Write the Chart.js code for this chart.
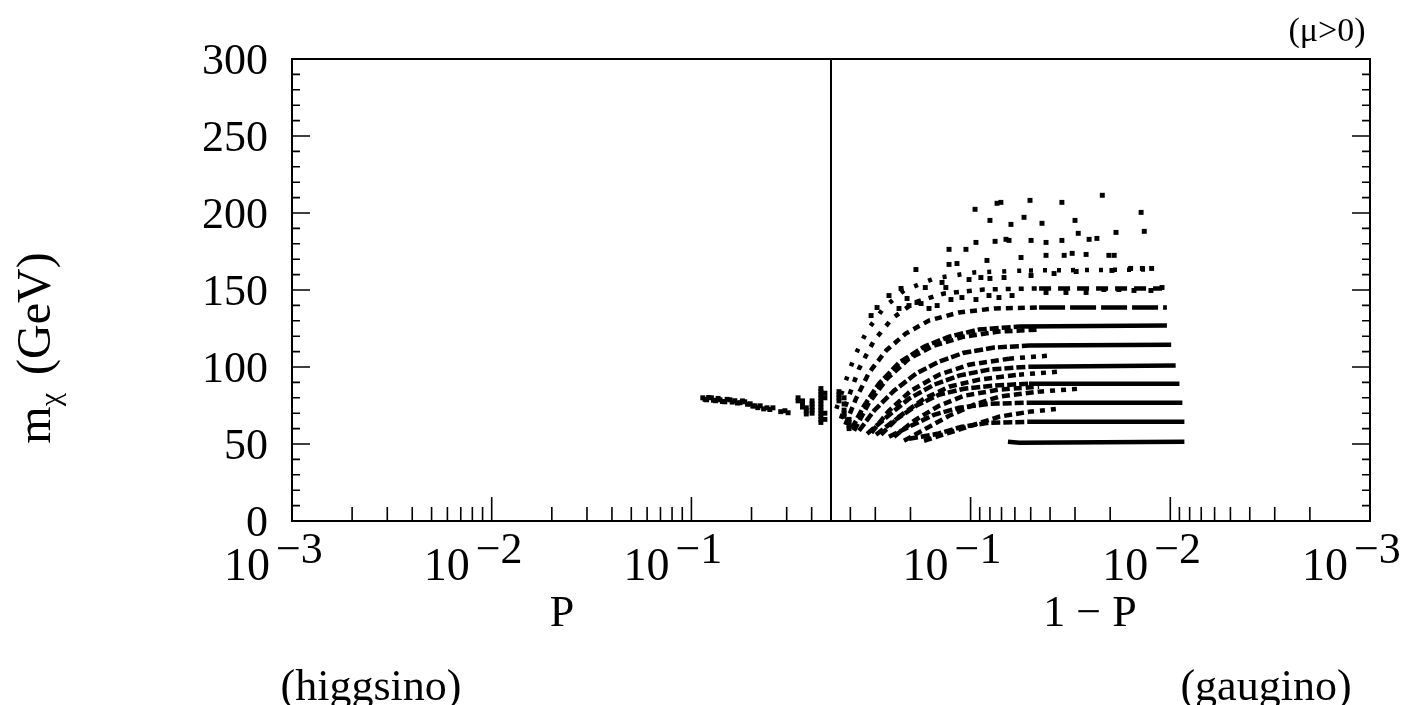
<!DOCTYPE html>
<html>
<head>
<meta charset="utf-8">
<script src="https://cdn.jsdelivr.net/npm/chart.js@4.4.0/dist/chart.umd.min.js"></script>
<style>
  body { margin: 0; background: #fff; }
  canvas { display: block; }
</style>
</head>
<body>
<canvas id="grafico" width="1414" height="705"></canvas>
<script>
// Eje y: masa del neutralino (GeV)
const ticksY = [0, 50, 100, 150, 200, 250, 300];
// Eje x: exponentes de las décadas (P a la izquierda, 1-P a la derecha)
const decadas = [-3, -2, -1];

// Bandas principales (1-P, m), de abajo hacia arriba
const banda1 = [[0.065, 51.4], [0.057, 50.8], [0.0085, 51.4]];
const banda2 = [[0.2034, 53.4], [0.1466, 56.6], [0.1105, 61.2], [0.0809, 63.8], [0.051, 64.4], [0.0085, 64.4]];
const banda3 = [[0.2562, 54.7], [0.2034, 61.2], [0.1524, 69.0], [0.1143, 73.5], [0.0809, 76.1], [0.051, 76.8], [0.0087, 76.8]];
const banda4 = [[0.2977, 56.0], [0.2418, 65.1], [0.1875, 74.8], [0.1439, 82.0], [0.1079, 85.9], [0.0763, 87.9], [0.051, 89.2], [0.009, 89.2]];
const banda5 = [[0.330, 56.6], [0.262, 67.7], [0.2034, 79.4], [0.1524, 88.5], [0.1143, 94.4], [0.0809, 98.3], [0.051, 100.2], [0.0094, 100.9]];
const banda6 = [[0.362, 58.6], [0.3046, 71.6], [0.2418, 84.6], [0.1875, 95.7], [0.1439, 103.5], [0.1079, 109.3], [0.0763, 112.6], [0.051, 113.9], [0.0099, 114.5]];
const banda7 = [[0.394, 59.9], [0.3418, 74.8], [0.2875, 89.2], [0.2283, 102.8], [0.1711, 113.2], [0.1282, 119.7], [0.0908, 124.3], [0.0572, 126.3], [0.0104, 126.9]];
const banda8 = [[0.424, 62.5], [0.375, 79.4], [0.3227, 96.3], [0.265, 110.6], [0.2113, 121.7], [0.1615, 130.2], [0.1143, 135.4], [0.0763, 138.0], [0.0454, 138.6], [0.0104, 138.6]];
const banda9 = [[0.446, 66.4], [0.406, 81.3], [0.362, 98.9], [0.3046, 117.1], [0.247, 131.5], [0.192, 141.9], [0.1358, 147.7], [0.0857, 150.3], [0.0454, 151.0], [0.011, 151.0]];
const banda10 = [[0.47, 72.9], [0.43, 87.9], [0.3835, 106.1], [0.33, 123.6], [0.2714, 138.6], [0.2155, 149.7], [0.1524, 157.5], [0.0961, 161.4], [0.051, 162.7], [0.0121, 163.3]];

// Bandas intermedias que sólo se ven a la izquierda (1-P, m)
const inter1 = [[0.1711, 52.1], [0.1282, 57.3], [0.0961, 62.5], [0.0721, 67.7], [0.051, 70.9], [0.0361, 72.9]];
const inter2 = [[0.2155, 52.1], [0.1711, 59.3], [0.1282, 68.3], [0.0961, 75.5], [0.0721, 80.7], [0.0454, 84.0], [0.0286, 85.9]];
const inter3 = [[0.2418, 54.7], [0.192, 65.1], [0.1439, 74.8], [0.1079, 81.3], [0.0721, 85.3], [0.0454, 87.2]];
const inter4 = [[0.281, 56.0], [0.2283, 67.7], [0.1711, 79.4], [0.1282, 87.2], [0.0908, 91.8], [0.0572, 95.0], [0.0361, 97.0]];
const inter5 = [[0.314, 57.3], [0.2562, 71.6], [0.199, 84.6], [0.1439, 95.0], [0.1018, 101.5], [0.0642, 105.4], [0.0405, 107.4]];
const inter6 = [[0.3835, 58.6], [0.3227, 76.8], [0.262, 92.4], [0.2034, 105.4], [0.1524, 113.9], [0.1079, 119.7], [0.0721, 123.0], [0.0454, 124.3]];

// Puntos sueltos de la zona alta (1-P, m)
const puntosAltos = [
  [0.0705, 206.9], [0.0504, 208.2], [0.0349, 206.9], [0.0219, 211.5], [0.054, 197.2], [0.0439, 193.3],
  [0.0628, 192.6], [0.03, 195.2], [0.014, 200.4], [0.0289, 186.8], [0.0255, 182.9], [0.0233, 183.5],
  [0.0187, 187.4], [0.0135, 188.1], [0.0642, 182.2], [0.0498, 182.2], [0.0419, 180.9], [0.0349, 182.2],
  [0.0559, 171.1], [0.0419, 172.5], [0.034, 172.5], [0.031, 173.8], [0.0264, 173.1], [0.0203, 172.5],
  [0.0191, 172.5], [0.068, 158.1], [0.0498, 159.4], [0.0382, 160.7], [0.0296, 162.0], [0.0196, 162.7],
  [0.0158, 164.0], [0.0138, 164.0], [0.0124, 164.0], [0.062, 146.4], [0.0419, 148.4], [0.0333, 148.4],
  [0.0264, 148.4], [0.0215, 150.3], [0.0181, 150.3], [0.0152, 149.7], [0.0125, 149.7], [0.011, 151.6],
  [0.095, 202.4], [0.0737, 206.3], [0.08, 195.2], [0.094, 180.9], [0.1055, 176.4], [0.1282, 176.4],
  [0.0754, 181.6], [0.0665, 182.9], [0.117, 167.2], [0.1282, 166.6], [0.0828, 169.2], [0.1878, 163.3],
  [0.1018, 156.8], [0.0888, 158.1], [0.08, 157.5], [0.1686, 151.6], [0.139, 154.9], [0.133, 151.6],
  [0.223, 151.0], [0.2562, 146.4], [0.208, 144.5], [0.177, 141.2], [0.1615, 138.0], [0.147, 139.9],
  [0.1254, 143.8], [0.1105, 145.1], [0.094, 143.8], [0.0809, 146.4], [0.0721, 145.1], [0.294, 138.6],
  [0.315, 133.4], [0.2283, 138.0], [0.2034, 139.9], [0.1855, 141.9]
];

// Zona mezclada: puntos con P < 0.5 (P, m)
const puntosHiggsino = [
  [0.114, 80.0], [0.117, 79.0], [0.119, 78.7], [0.122, 80.2], [0.126, 80.0], [0.129, 78.4], [0.132, 78.1],
  [0.136, 79.6], [0.139, 78.7], [0.143, 77.6], [0.147, 77.4], [0.151, 79.0], [0.156, 78.7], [0.16, 77.2],
  [0.165, 78.1], [0.17, 76.6], [0.175, 76.8], [0.18, 78.0], [0.185, 77.4], [0.191, 75.8], [0.197, 76.1],
  [0.203, 74.6], [0.208, 74.8], [0.215, 73.6], [0.221, 74.8], [0.23, 72.8], [0.239, 73.5], [0.247, 72.4],
  [0.256, 73.5], [0.28, 71.0], [0.294, 71.6], [0.305, 70.3],
  [0.342, 80.0], [0.342, 78.0], [0.36, 78.0], [0.36, 76.0], [0.36, 74.0], [0.376, 73.5], [0.376, 71.5],
  [0.376, 69.5], [0.402, 78.0], [0.402, 76.0], [0.402, 74.0], [0.402, 72.0], [0.402, 70.0],
  [0.445, 86.0], [0.445, 84.0], [0.445, 82.0], [0.445, 80.0], [0.445, 78.0], [0.445, 76.0], [0.445, 74.0],
  [0.445, 72.0], [0.445, 70.0], [0.445, 68.0], [0.445, 66.0], [0.445, 64.0],
  [0.466, 83.0], [0.466, 80.0], [0.466, 70.0], [0.466, 66.0]
];
// Zona mezclada a la derecha de la línea (1-P, m)
const puntosMezcla = [
  [0.456, 84.0], [0.456, 82.0], [0.456, 80.0], [0.456, 78.0], [0.43, 80.0], [0.43, 76.0], [0.43, 72.0],
  [0.43, 70.0], [0.43, 68.0], [0.406, 66.0], [0.406, 64.0], [0.406, 62.0], [0.406, 60.0]
];

// Conversión a la coordenada del eje (décadas desde 10^-3)
const LIMITE = 2 * Math.log10(500);
const tIzq = p => Math.log10(p) + 3;
const tDer = q => LIMITE - 3 - Math.log10(q);

const aDer = lista => lista.map(([q, m]) => ({ x: tDer(q), y: m }));
const aIzq = lista => lista.map(([p, m]) => ({ x: tIzq(p), y: m }));

// trazo de cada banda: [discontinuo a la izquierda, trazo a la derecha]
const bandas = [banda1, banda2, banda3, banda4, banda5, banda6, banda7, banda8, banda9, banda10];
const trazos = [
  [[9, 3], []], [[9, 3], []], [[9, 3], []], [[9, 3], []], [[9, 3], []], [[9, 3], []], [[9, 3], []],
  [[7, 5], [26, 5]], [[5, 8], [12, 7]], [[4, 11], [4, 10]]
];
const corte = tDer(0.07);

const linea = (d, izq, der) => ({
  data: d,
  showLine: true,
  borderColor: '#000',
  borderWidth: 4.5,
  pointRadius: 0,
  segment: { borderDash: ctx => ctx.p0.parsed.x < corte ? izq : der }
});
const datasets = bandas.map((b, i) => linea(aDer(b), trazos[i][0], trazos[i][1]));
[inter1, inter2, inter3, inter4, inter5, inter6].forEach(b => datasets.push(linea(aDer(b), [8, 4], [5, 6])));

[aDer(puntosAltos), aIzq(puntosHiggsino), aDer(puntosMezcla)].forEach(d => datasets.push({
  data: d,
  backgroundColor: '#000',
  borderWidth: 0,
  pointStyle: 'rect',
  pointRadius: 3.5
}));

const FUENTE = '"Liberation Serif", "Times New Roman", serif';

// Marco, marcas hacia dentro y textos
const marco = {
  id: 'marco',
  afterDatasetsDraw(chart) {
    const { ctx, chartArea: a, scales: { x, y } } = chart;
    ctx.save();
    ctx.strokeStyle = '#000';
    ctx.fillStyle = '#000';
    ctx.lineWidth = 2;
    ctx.strokeRect(a.left, a.top, a.right - a.left, a.bottom - a.top);
    // línea P = 0.5
    const xm = x.getPixelForValue(LIMITE / 2);
    ctx.beginPath();
    ctx.moveTo(xm, a.top);
    ctx.lineTo(xm, a.bottom);
    ctx.stroke();

    ctx.lineWidth = 1.6;
    ctx.beginPath();
    for (let v = 0; v <= 300; v += 10) {
      const py = y.getPixelForValue(v);
      const largo = v % 50 === 0 ? 18 : 8;
      ctx.moveTo(a.left, py); ctx.lineTo(a.left + largo, py);
      ctx.moveTo(a.right, py); ctx.lineTo(a.right - largo, py);
    }
    const marcaX = (t, largo) => {
      const px = x.getPixelForValue(t);
      ctx.moveTo(px, a.bottom); ctx.lineTo(px, a.bottom - largo);
    };
    decadas.forEach(e => {
      marcaX(e + 3, 24);
      marcaX(LIMITE - 3 - e, 24);
      for (let k = 2; k <= 9; k++) {
        const v = k * Math.pow(10, e);
        if (v >= 0.5) continue;
        marcaX(tIzq(v), 14);
        marcaX(tDer(v), 14);
      }
    });
    ctx.stroke();

    // etiquetas del eje y
    ctx.font = '44px ' + FUENTE;
    ctx.textAlign = 'right';
    ctx.textBaseline = 'middle';
    ticksY.forEach(v => ctx.fillText(String(v), a.left - 24, y.getPixelForValue(v) + 3));

    // etiquetas 10^-n
    const etiqueta = (px, e) => {
      ctx.font = '46px ' + FUENTE;
      ctx.textAlign = 'right';
      ctx.textBaseline = 'alphabetic';
      ctx.fillText('10', px - 22, 580);
      ctx.font = '44px ' + FUENTE;
      ctx.textAlign = 'left';
      ctx.fillText('\u2212' + Math.abs(e), px - 16, 563);
    };
    decadas.forEach(e => {
      etiqueta(x.getPixelForValue(e + 3), e);
      etiqueta(x.getPixelForValue(LIMITE - 3 - e), e);
    });

    // títulos de los ejes
    ctx.font = '44px ' + FUENTE;
    ctx.textAlign = 'center';
    ctx.textBaseline = 'middle';
    ctx.fillText('P', 562, 614);
    ctx.fillText('1 \u2212 P', 1090, 614);
    ctx.fillText('(higgsino)', 371, 688);
    ctx.fillText('(gaugino)', 1266, 688);
    ctx.font = '34px ' + FUENTE;
    ctx.fillText('(\u03bc>0)', 1327, 32);

    ctx.translate(50, 348);
    ctx.rotate(-Math.PI / 2);
    ctx.textAlign = 'left';
    ctx.textBaseline = 'alphabetic';
    ctx.font = '48px ' + FUENTE;
    const wm = ctx.measureText('m').width;
    ctx.font = '30px ' + FUENTE;
    const wc = ctx.measureText('\u03c7').width + 6;
    ctx.font = '48px ' + FUENTE;
    const wg = ctx.measureText(' (GeV)').width;
    let x0 = -(wm + wc + wg) / 2;
    ctx.fillText('m', x0, 0);
    ctx.font = '30px ' + FUENTE;
    ctx.fillText('\u03c7', x0 + wm, 10);
    ctx.font = '48px ' + FUENTE;
    ctx.fillText(' (GeV)', x0 + wm + wc, 0);
    ctx.restore();
  }
};

new Chart(document.getElementById('grafico'), {
  type: 'scatter',
  data: { datasets },
  options: {
    responsive: false,
    animation: false,
    layout: { padding: { left: 292, right: 44, top: 59, bottom: 184 } },
    plugins: { legend: { display: false }, tooltip: { enabled: false } },
    scales: {
      x: { type: 'linear', min: 0, max: LIMITE, display: false },
      y: { type: 'linear', min: 0, max: 300, display: false }
    }
  },
  plugins: [marco]
});
</script>
</body>
</html>
